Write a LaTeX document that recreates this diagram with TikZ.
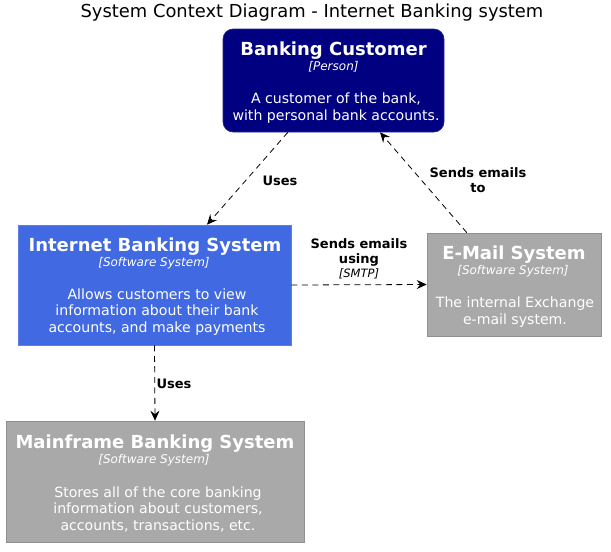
\documentclass[tikz,border=0pt]{standalone}
\usepackage{fontspec}
\setmainfont{DejaVu Sans}
\usetikzlibrary{arrows.meta,calc}
\definecolor{custfill}{HTML}{000080}
\definecolor{ibsfill}{HTML}{4169E1}
\definecolor{extfill}{HTML}{A9A9A9}
\tikzset{
  x=1pt,y=-1pt,
  boxbase/.style={draw, inner sep=0pt, line width=0.6pt},
  custbox/.style={boxbase, fill=custfill, draw=custfill!85!white, rounded corners=10pt},
  ibsbox/.style={boxbase, fill=ibsfill, draw=ibsfill!85!white},
  extbox/.style={boxbase, fill=extfill, draw=extfill!85!black},
  ttl/.style={text=white, font=\fontsize{18}{20}\selectfont\bfseries, inner sep=0pt},
  stereo/.style={text=white, font=\fontsize{12}{13}\selectfont\itshape, inner sep=0pt},
  desc/.style={text=white, font=\fontsize{14.1}{16.5}\selectfont, align=center, inner sep=0pt},
  elabel/.style={font=\fontsize{13}{15}\selectfont\bfseries, align=center, inner sep=0pt},
  etech/.style={font=\fontsize{11.5}{13}\selectfont\itshape, inner sep=0pt},
  rel/.style={dashed, dash pattern=on 6pt off 4.5pt, line width=0.8pt, -{Stealth[length=10pt,width=9pt,inset=3.5pt]}}
}
\begin{document}
\begin{tikzpicture}
\useasboundingbox (0,0) rectangle (611,552);
\node[font=\fontsize{17.9}{20}\selectfont, inner sep=0pt] (title) at (312,13) {System Context Diagram - Internet Banking system};

% boxes
\node[custbox, minimum width=221pt, minimum height=103pt] (cust) at (333.5,80.5) {};
\node[ibsbox, minimum width=273pt, minimum height=120pt] (ibs) at (154.5,285) {};
\node[extbox, minimum width=174pt, minimum height=103pt] (email) at (514,284.5) {};
\node[extbox, minimum width=298pt, minimum height=121pt] (main) at (155,481.5) {};

% customer text
\node[ttl] (custt) at (333.5,51) {Banking Customer};
\node[stereo] (custs) at (333.5,67) {[Person]};
\node[desc] (custd) at (336,108) {A customer of the bank,\\with personal bank accounts.};

% ibs text
\node[ttl] (ibst) at (155,247) {Internet Banking System};
\node[stereo] (ibss) at (154,263) {[Software System]};
\node[desc] (ibsd) at (157,312) {Allows customers to view\\information about their bank\\accounts, and make payments};

% email text
\node[ttl] (emailt) at (514,255) {E-Mail System};
\node[stereo] (emails) at (513,271) {[Software System]};
\node[desc] (emaild) at (515,312) {The internal Exchange\\e-mail system.};

% mainframe text
\node[ttl] (maint) at (155,444) {Mainframe Banking System};
\node[stereo] (mains) at (154,460) {[Software System]};
\node[desc] (maind) at (158,509) {Stores all of the core banking\\information about customers,\\accounts, transactions, etc.};

% relations
\coordinate (c1) at ($(cust.south west)!0.294!(cust.south east)$);
\coordinate (i1) at ($(ibs.north west)!0.692!(ibs.north east)$);
\draw[rel] (c1) -- (i1);
\node[elabel] (l1) at (280,181) {Uses};

\coordinate (e1) at ($(email.north west)!0.23!(email.north east)$);
\coordinate (c2) at ($(cust.south west)!0.71!(cust.south east)$);
\draw[rel] (e1) -- (c2);
\node[elabel] (l2) at (478,180) {Sends emails\\to};

\draw[rel] (ibs.east) -- (email.west);
\node[elabel] (l3) at (359,252.5) {Sends emails\\using};
\node[etech] (l3t) at (359,274) {[SMTP]};

\draw[rel] (ibs.south) -- (main.north);
\node[elabel] (l4) at (174,384) {Uses};
\end{tikzpicture}
\end{document}
